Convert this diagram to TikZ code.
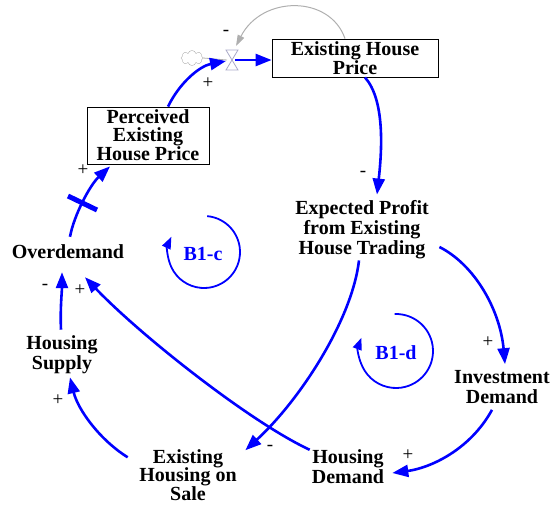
\documentclass[tikz,border=0pt]{standalone}
\usepackage{fontspec}
\setmainfont{Liberation Serif}
\usetikzlibrary{arrows.meta,shapes.symbols}
\definecolor{lblue}{RGB}{0,0,255}
\definecolor{pipegray}{RGB}{175,175,175}
\definecolor{valvegray}{RGB}{170,170,200}
\begin{document}
\begin{tikzpicture}[x=1pt,y=1pt,
 var/.style={font=\fontsize{20}{20}\selectfont\bfseries, align=center, inner sep=0pt},
 boxvar/.style={draw=black, line width=0.8pt, font=\fontsize{20}{18}\selectfont\bfseries, align=center, inner sep=0pt},
 link/.style={draw=lblue, line width=2.6pt, -{Triangle[length=16pt,width=12pt]}},
 sign/.style={font=\fontsize{19}{19}\selectfont, inner sep=0pt},
 looplbl/.style={text=lblue, font=\fontsize{20}{20}\selectfont\bfseries, inner sep=0pt},
 loopar/.style={draw=lblue, line width=1.8pt, -{Triangle[length=12pt,width=9pt]}},
 infolink/.style={draw=pipegray, line width=1pt, -{Triangle[length=11pt,width=7pt]}}
]
\useasboundingbox (0,0) rectangle (553,-504);

% variables
\node[boxvar, minimum width=166pt, minimum height=38pt] (ehp) at (355,-58) {Existing House\\Price};
\node[boxvar, minimum width=122pt, minimum height=57pt] (pehp) at (148,-135.5) {Perceived\\Existing\\House Price};
\node[var] (ep) at (362,-230) {Expected Profit\\from Existing\\House Trading};
\node[var] (id) at (502,-387) {Investment\\Demand};
\node[var] (hd) at (348,-467) {Housing\\Demand};
\node[var, font=\fontsize{20}{18.5}\selectfont\bfseries] (ehs) at (188,-475) {Existing\\Housing on\\Sale};
\node[var] (hs) at (62,-355) {Housing\\Supply};
\node[var] (od) at (68,-252) {Overdemand};

% stock-flow source and valve
\node[cloud, draw=pipegray, cloud puffs=8, minimum width=22pt, minimum height=15pt, inner sep=0pt] (src) at (192,-58) {};
\node[coordinate] (valve) at (232,-60) {};
\draw[pipegray, line width=0.8pt] (src.east) -- ([xshift=-5pt]valve);
\draw[valvegray, line width=0.8pt] (226,-50) -- (238,-50) -- (226,-70) -- (238,-70) -- cycle;
\draw[link] ([xshift=3pt]valve) -- (ehp.west |- valve);

% information link (gray)
\draw[infolink] ([xshift=-10pt]ehp.north) .. controls (330,5) and (262,5) .. ([xshift=4pt,yshift=14pt]valve);

% causal links
\draw[link] ([xshift=20pt]pehp.north) .. controls (180,-82) and (200,-66) .. ([xshift=-6pt,yshift=-1pt]valve);
\draw[link] ([xshift=10pt]ehp.south) .. controls (385,-100) and (382,-150) .. ([xshift=15pt,yshift=6pt]ep.north);
\draw[link] ([xshift=10.5pt,yshift=-17pt]ep.east) .. controls (475,-265) and (500,-310) .. ([xshift=3pt,yshift=6pt]id.north);
\draw[link] ([xshift=-10pt,yshift=-6pt]id.south) .. controls (470,-450) and (430,-468) .. ([xshift=8pt,yshift=-6pt]hd.east);
\draw[link] ([xshift=-2pt]hd.north west) .. controls (250,-422) and (140,-335) .. ([xshift=17pt,yshift=-18pt]od.south);
\draw[link] ([xshift=-3pt,yshift=-1pt]ep.south) .. controls (352,-320) and (300,-400) .. ([xshift=8.5pt,yshift=-1pt]ehs.north east);
\draw[link] ([xshift=-11.5pt,yshift=-8pt]ehs.north west) .. controls (100,-440) and (78,-410) .. ([xshift=8pt,yshift=-3pt]hs.south);
\draw[link] ([xshift=-1pt,yshift=6pt]hs.north) .. controls (60,-310) and (62,-290) .. ([xshift=-6pt,yshift=-13pt]od.south);
\draw[link] ([xshift=2pt,yshift=8pt]od.north) .. controls (74,-215) and (90,-185) .. ([xshift=-38pt,yshift=-2pt]pehp.south);
% delay mark
\draw[lblue, line width=5pt] (68,-196) -- (97,-210);

% polarity signs
\node[sign] (s1) at (208,-83) {+};
\node[sign] (s2) at (226,-33) {-};
\node[sign] (s3) at (363,-174) {-};
\node[sign] (s4) at (83,-170) {+};
\node[sign] (s5) at (488,-342) {+};
\node[sign] (s6) at (408,-455) {+};
\node[sign] (s7) at (80,-290) {+};
\node[sign] (s8) at (45,-287) {-};
\node[sign] (s9) at (58,-400) {+};
\node[sign] (s10) at (270,-448) {-};

% loops
\node[looplbl] (b1c) at (203,-254) {B1-c};
\draw[loopar] (204,-252) ++(85:36) arc[start angle=85, end angle=-205, radius=36];
\node[looplbl] (b1d) at (396,-353) {B1-d};
\draw[loopar] (396,-351) ++(92:37) arc[start angle=92, end angle=-201, radius=37];
\end{tikzpicture}
\end{document}
